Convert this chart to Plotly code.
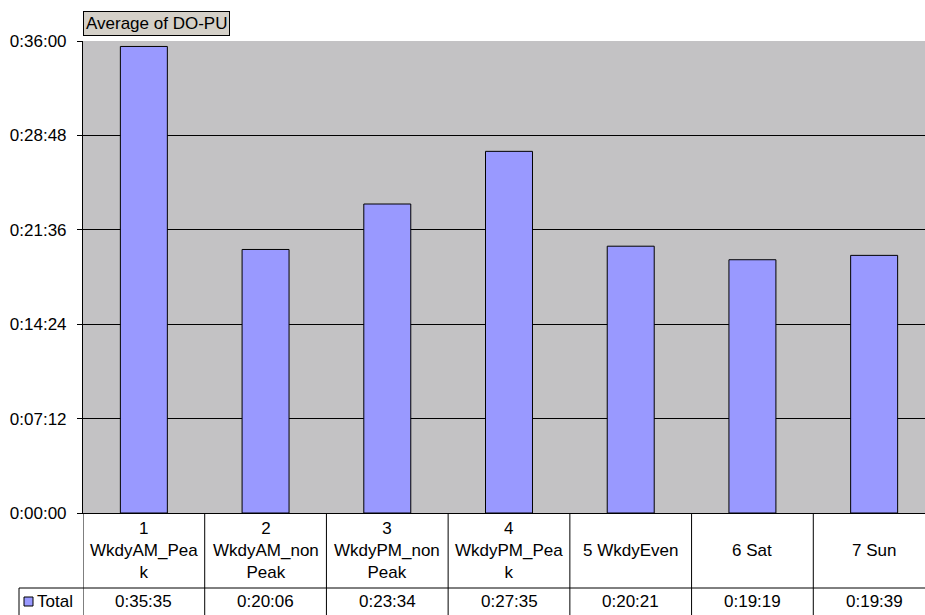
import plotly.graph_objects as go

# Average DO-PU duration by time period
categories = [
    "1<br>WkdyAM_Pea<br>k",
    "2<br>WkdyAM_non<br>Peak",
    "3<br>WkdyPM_non<br>Peak",
    "4<br>WkdyPM_Pea<br>k",
    "5 WkdyEven",
    "6 Sat",
    "7 Sun",
]
durations = ["0:35:35", "0:20:06", "0:23:34", "0:27:35", "0:20:21", "0:19:19", "0:19:39"]
y_ticks = ["0:00:00", "0:07:12", "0:14:24", "0:21:36", "0:28:48", "0:36:00"]
series_name = "Total"
chart_title = "Average of DO-PU"


def to_seconds(hms):
    h, m, s = (int(p) for p in hms.split(":"))
    return h * 3600 + m * 60 + s


values = [to_seconds(d) for d in durations]
tick_vals = [to_seconds(t) for t in y_ticks]

FONT = "Liberation Sans, Arial, sans-serif"
FS = 17
W, H = 925, 615
M_L, M_R, M_T, M_B = 83, 0, 41, 102
PLOT_H = H - M_T - M_B
PLOT_W = W - M_L - M_R


def py(pixel_y):
    """Pixel row -> paper y."""
    return (H - M_B - pixel_y) / PLOT_H


def px(pixel_x):
    """Pixel column -> paper x."""
    return (pixel_x - M_L) / PLOT_W


idx = list(range(len(categories)))

fig = go.Figure(
    go.Bar(
        x=idx,
        y=values,
        name=series_name,
        marker=dict(color="#9999FF", line=dict(color="black", width=1)),
        hovertext=durations,
        hoverinfo="text",
    )
)

# data table: category row and value row
cat_row_y = py((513 + 588) / 2)
val_row_y = py((588 + 615) / 2)
annotations = []
for i, (cat, dur) in enumerate(zip(categories, durations)):
    annotations.append(dict(x=i, y=cat_row_y, xref="x", yref="paper", text=cat,
                            showarrow=False, xanchor="center", yanchor="middle",
                            font=dict(size=FS, color="black", family=FONT)))
    annotations.append(dict(x=i, y=val_row_y, xref="x", yref="paper", text=dur,
                            showarrow=False, xanchor="center", yanchor="middle",
                            font=dict(size=FS, color="black", family=FONT)))

annotations.append(dict(x=px(35), y=val_row_y, xref="paper", yref="paper", text=series_name,
                        showarrow=False, xanchor="left", yanchor="middle",
                        font=dict(size=FS, color="black", family=FONT)))

# title box
annotations.append(dict(x=0, y=py(36), xref="paper", yref="paper", text=chart_title,
                        showarrow=False, xanchor="left", yanchor="bottom",
                        bgcolor="#D4D0C8", bordercolor="black", borderwidth=1, borderpad=2,
                        font=dict(size=FS, color="black", family=FONT)))

shapes = []
line = dict(color="black", width=1)
bottom = py(H)
# vertical dividers between categories
for i in range(len(categories) + 1):
    shapes.append(dict(type="line", xref="x", yref="paper", x0=i - 0.5, x1=i - 0.5,
                       y0=0, y1=bottom, line=line))
# horizontal line above value row and legend cell border
shapes.append(dict(type="line", xref="paper", yref="paper", x0=px(19), x1=1,
                   y0=py(588), y1=py(588), line=line))
shapes.append(dict(type="line", xref="paper", yref="paper", x0=px(19), x1=px(19),
                   y0=py(588), y1=bottom, line=line))
# legend key
shapes.append(dict(type="rect", xref="paper", yref="paper", x0=px(24), x1=px(33),
                   y0=py(606), y1=py(597), fillcolor="#9999FF", line=line))

fig.update_layout(
    width=W, height=H,
    margin=dict(l=M_L, r=M_R, t=M_T, b=M_B, pad=0),
    paper_bgcolor="white",
    plot_bgcolor="#C3C2C4",
    showlegend=False,
    bargap=0.614,
    font=dict(family=FONT, size=FS, color="black"),
    annotations=annotations,
    shapes=shapes,
    xaxis=dict(
        range=[-0.5, len(categories) - 0.5 - 10 / (PLOT_W / (len(categories) - 0.08))],
        showticklabels=False, ticks="", showgrid=False, zeroline=False,
        showline=True, linecolor="black", linewidth=1, fixedrange=True,
    ),
    yaxis=dict(
        range=[0, tick_vals[-1]],
        tickvals=tick_vals, ticktext=y_ticks,
        ticks="outside", ticklen=5, tickcolor="black", tickwidth=1,
        ticklabelstandoff=7,
        showgrid=True, gridcolor="black", gridwidth=1, zeroline=False,
        showline=True, linecolor="black", linewidth=1,
        tickfont=dict(size=FS, color="black", family=FONT),
        fixedrange=True,
    ),
)

fig.write_html("out.html", config={"displayModeBar": False})
